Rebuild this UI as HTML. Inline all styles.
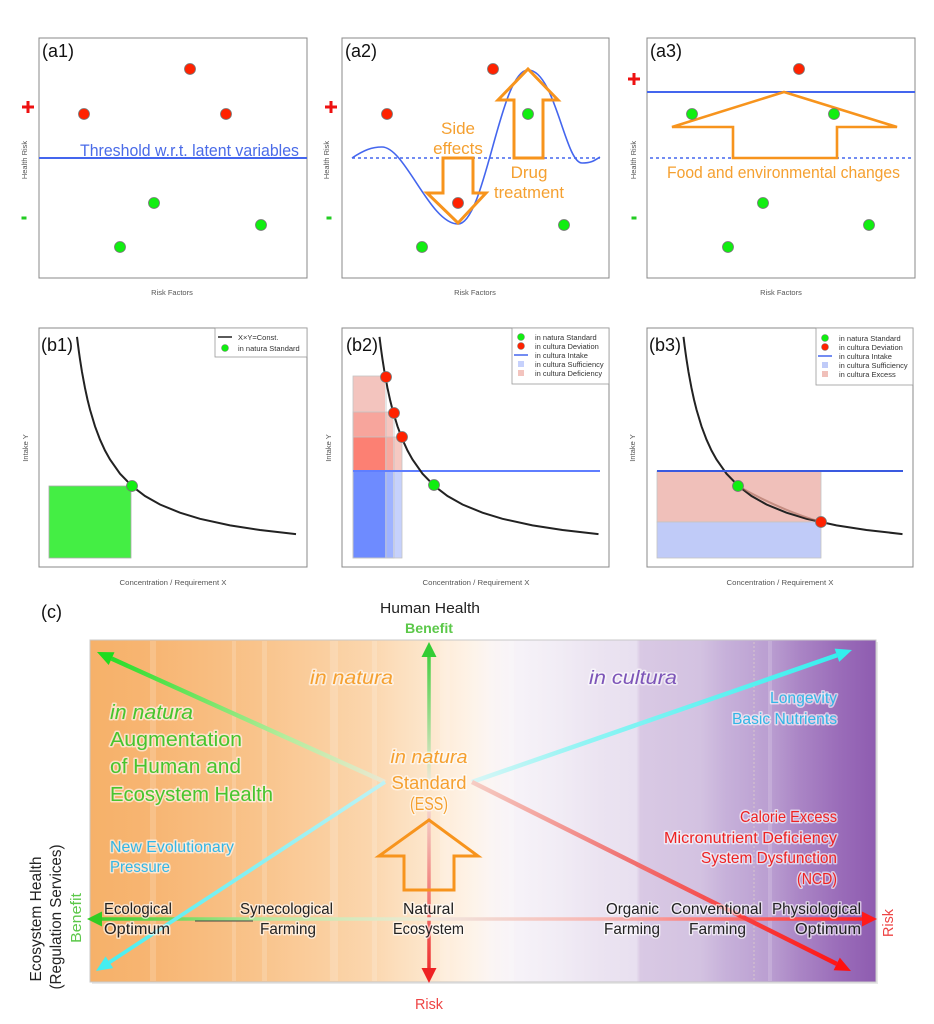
<!DOCTYPE html>
<html><head><meta charset="utf-8"><style>
html,body{margin:0;padding:0;background:#fff;}
svg{display:block;}
text{font-family:"Liberation Sans",Arial,sans-serif;}
.halo{paint-order:stroke;stroke:rgba(255,255,255,0.6);stroke-width:3px;stroke-linejoin:round;}
.ax{font-size:7.5px;fill:#555;}
.lg{font-size:7.5px;fill:#333;}
</style></head><body>
<svg width="934" height="1024" viewBox="0 0 934 1024" xmlns="http://www.w3.org/2000/svg">
<defs>
 <path id="hyp" d="M77,336.9 L78,344.9 L79,352.4 L80,359.4 L82,372 L85,388.1 L87.5,399.6 L90,409.6 L95,426.3 L100,439.6 L105,450.5 L110,459.5 L120,473.7 L132,486.1 L145,496 L160,504.5 L180,512.7 L200,518.8 L230,525.4 L260,530 L296,534.1" fill="none" stroke="#222" stroke-width="2"/>
 <linearGradient id="bg" gradientUnits="userSpaceOnUse" x1="90" y1="0" x2="876" y2="0">
  <stop offset="0" stop-color="#f6b169"/>
  <stop offset="0.076" stop-color="#f7b572"/>
  <stop offset="0.153" stop-color="#f8bd80"/>
  <stop offset="0.216" stop-color="#f9c48c"/>
  <stop offset="0.293" stop-color="#face9e"/>
  <stop offset="0.356" stop-color="#fbd6ad"/>
  <stop offset="0.394" stop-color="#fcdfbe"/>
  <stop offset="0.433" stop-color="#fde7cd"/>
  <stop offset="0.464" stop-color="#feefdf"/>
  <stop offset="0.490" stop-color="#fdf4ea"/>
  <stop offset="0.511" stop-color="#fbf5f4"/>
  <stop offset="0.547" stop-color="#f6f2f8"/>
  <stop offset="0.598" stop-color="#f1ecf5"/>
  <stop offset="0.649" stop-color="#ebe3f1"/>
  <stop offset="0.695" stop-color="#e8e0f0"/>
  <stop offset="0.700" stop-color="#d9c9e4"/>
  <stop offset="0.776" stop-color="#d3c2e1"/>
  <stop offset="0.808" stop-color="#c7b1da"/>
  <stop offset="0.865" stop-color="#ba9ed1"/>
  <stop offset="0.903" stop-color="#aa85c5"/>
  <stop offset="0.954" stop-color="#9a6cb9"/>
  <stop offset="1" stop-color="#8e5cb0"/>
 </linearGradient>
 <linearGradient id="gUL" gradientUnits="userSpaceOnUse" x1="385" y1="782" x2="97" y2="652">
  <stop offset="0" stop-color="#ece8d2"/><stop offset="0.35" stop-color="#b4ec9c"/><stop offset="1" stop-color="#1fdc1f"/>
 </linearGradient>
 <linearGradient id="gUR" gradientUnits="userSpaceOnUse" x1="472" y1="782" x2="852" y2="650">
  <stop offset="0" stop-color="#d8f6f6"/><stop offset="0.3" stop-color="#90f4f4"/><stop offset="1" stop-color="#33eeee"/>
 </linearGradient>
 <linearGradient id="gLL" gradientUnits="userSpaceOnUse" x1="385" y1="782" x2="96" y2="971">
  <stop offset="0" stop-color="#bff2f4"/><stop offset="1" stop-color="#44eef0"/>
 </linearGradient>
 <linearGradient id="gLR" gradientUnits="userSpaceOnUse" x1="472" y1="782" x2="851" y2="971">
  <stop offset="0" stop-color="#f6cdc4"/><stop offset="0.4" stop-color="#f07474"/><stop offset="1" stop-color="#ff1010"/>
 </linearGradient>
 <linearGradient id="gUp" gradientUnits="userSpaceOnUse" x1="429" y1="782" x2="429" y2="642">
  <stop offset="0" stop-color="#f0e8d8"/><stop offset="1" stop-color="#33cc33"/>
 </linearGradient>
 <linearGradient id="gDn" gradientUnits="userSpaceOnUse" x1="429" y1="800" x2="429" y2="983">
  <stop offset="0" stop-color="#f4dcd4"/><stop offset="1" stop-color="#ee2222"/>
 </linearGradient>
 <linearGradient id="gLf" gradientUnits="userSpaceOnUse" x1="429" y1="919" x2="87" y2="919">
  <stop offset="0" stop-color="#f0ead8"/><stop offset="0.45" stop-color="#bce8a4"/><stop offset="1" stop-color="#33cc22"/>
 </linearGradient>
 <linearGradient id="gRt" gradientUnits="userSpaceOnUse" x1="429" y1="919" x2="877" y2="919">
  <stop offset="0" stop-color="#f0e8e0"/><stop offset="0.4" stop-color="#f8b4b0"/><stop offset="1" stop-color="#ff1a1a"/>
 </linearGradient>
</defs>

<!-- ================= ROW A ================= -->
<!-- a1 -->
<rect x="39" y="38" width="268" height="240" fill="#fff" stroke="#888" stroke-width="1"/>
<text x="42" y="57" font-size="18" fill="#111">(a1)</text>
<line x1="39" y1="158" x2="307" y2="158" stroke="#4466ee" stroke-width="2"/>
<text x="80" y="156" font-size="17" fill="#4a6be8" textLength="219" lengthAdjust="spacingAndGlyphs">Threshold w.r.t. latent variables</text>
<g stroke="#777" stroke-width="0.8">
 <circle cx="190" cy="69" r="5.5" fill="#ff2200"/>
 <circle cx="84" cy="114" r="5.5" fill="#ff2200"/>
 <circle cx="226" cy="114" r="5.5" fill="#ff2200"/>
 <circle cx="154" cy="203" r="5.5" fill="#11ee11"/>
 <circle cx="120" cy="247" r="5.5" fill="#11ee11"/>
 <circle cx="261" cy="225" r="5.5" fill="#11ee11"/>
</g>
<path d="M22,107 H34 M28,101 V113" stroke="#ee1111" stroke-width="3"/>
<rect x="21.5" y="216.5" width="5" height="3" fill="#22cc22"/>
<text class="ax" transform="translate(27,160) rotate(-90)" text-anchor="middle">Health Risk</text>
<text class="ax" x="172" y="295" text-anchor="middle">Risk Factors</text>

<!-- a2 -->
<rect x="342" y="38" width="267" height="240" fill="#fff" stroke="#888" stroke-width="1"/>
<text x="345" y="57" font-size="18" fill="#111">(a2)</text>
<line x1="352" y1="158" x2="600" y2="158" stroke="#4466ee" stroke-width="1.6" stroke-dasharray="3,3"/>
<path d="M352,158 C364,150 372,147 382,147 C405,147 430,224 458,224 C485,224 500,70 528,70 C555,70 565,163 582,163 C592,163 595,160 600,157" fill="none" stroke="#4466ee" stroke-width="1.6"/>
<g stroke="#777" stroke-width="0.8">
 <circle cx="493" cy="69" r="5.5" fill="#ff2200"/>
 <circle cx="387" cy="114" r="5.5" fill="#ff2200"/>
 <circle cx="458" cy="203" r="5.5" fill="#ff2200"/>
 <circle cx="528" cy="114" r="5.5" fill="#11ee11"/>
 <circle cx="422" cy="247" r="5.5" fill="#11ee11"/>
 <circle cx="564" cy="225" r="5.5" fill="#11ee11"/>
</g>
<path d="M443,158 L473,158 L473,193 L486,193 L458,223 L427,193 L443,193 Z" fill="none" stroke="#f7941d" stroke-width="3" stroke-linejoin="miter"/>
<path d="M514,158 L543,158 L543,100 L558,100 L528,69 L498,100 L514,100 Z" fill="none" stroke="#f7941d" stroke-width="3" stroke-linejoin="miter"/>
<text x="458" y="134" font-size="17" fill="#f5a030" text-anchor="middle" class="halo">Side</text>
<text x="458" y="154" font-size="17" fill="#f5a030" text-anchor="middle" class="halo">effects</text>
<text x="529" y="178" font-size="17" fill="#f5a030" text-anchor="middle" class="halo">Drug</text>
<text x="529" y="198" font-size="17" fill="#f5a030" text-anchor="middle" class="halo" textLength="70" lengthAdjust="spacingAndGlyphs">treatment</text>
<path d="M325,107 H337 M331,101 V113" stroke="#ee1111" stroke-width="3"/>
<rect x="326.5" y="216.5" width="5" height="3" fill="#22cc22"/>
<text class="ax" transform="translate(329,160) rotate(-90)" text-anchor="middle">Health Risk</text>
<text class="ax" x="475" y="295" text-anchor="middle">Risk Factors</text>

<!-- a3 -->
<rect x="647" y="38" width="268" height="240" fill="#fff" stroke="#888" stroke-width="1"/>
<text x="650" y="57" font-size="18" fill="#111">(a3)</text>
<line x1="647" y1="92" x2="915" y2="92" stroke="#4466ee" stroke-width="2"/>
<line x1="650" y1="158" x2="913" y2="158" stroke="#4466ee" stroke-width="1.6" stroke-dasharray="3,3"/>
<path d="M733,158 L837,158 L837,127 L897,127 L784,92 L672,127 L733,127 Z" fill="none" stroke="#f7941d" stroke-width="2.6" stroke-linejoin="miter"/>
<g stroke="#777" stroke-width="0.8">
 <circle cx="799" cy="69" r="5.5" fill="#ff2200"/>
 <circle cx="692" cy="114" r="5.5" fill="#11ee11"/>
 <circle cx="834" cy="114" r="5.5" fill="#11ee11"/>
 <circle cx="763" cy="203" r="5.5" fill="#11ee11"/>
 <circle cx="728" cy="247" r="5.5" fill="#11ee11"/>
 <circle cx="869" cy="225" r="5.5" fill="#11ee11"/>
</g>
<text x="667" y="178" font-size="17" fill="#f5a030" class="halo" textLength="233" lengthAdjust="spacingAndGlyphs">Food and environmental changes</text>
<path d="M628,79 H640 M634,73 V85" stroke="#ee1111" stroke-width="3"/>
<rect x="631.5" y="216.5" width="5" height="3" fill="#22cc22"/>
<text class="ax" transform="translate(636,160) rotate(-90)" text-anchor="middle">Health Risk</text>
<text class="ax" x="781" y="295" text-anchor="middle">Risk Factors</text>

<!-- ================= ROW B ================= -->
<!-- b1 -->
<rect x="39" y="328" width="268" height="239" fill="#fff" stroke="#888" stroke-width="1"/>
<rect x="49" y="486" width="82" height="72" fill="#44ee44" stroke="#aaa" stroke-width="0.8"/>
<use href="#hyp"/>
<circle cx="132" cy="486" r="5.5" fill="#11ee11" stroke="#777" stroke-width="0.8"/>
<text x="41" y="351" font-size="18" fill="#111">(b1)</text>
<rect x="215" y="328" width="92" height="29" fill="#fff" stroke="#999" stroke-width="0.8"/>
<line x1="218" y1="337" x2="232" y2="337" stroke="#222" stroke-width="1.5"/>
<text class="lg" x="238" y="340">X×Y=Const.</text>
<circle cx="225" cy="348" r="3.5" fill="#11ee11" stroke="#777" stroke-width="0.5"/>
<text class="lg" x="238" y="351">in natura Standard</text>
<text class="ax" transform="translate(28,448) rotate(-90)" text-anchor="middle">Intake Y</text>
<text class="ax" x="173" y="585" text-anchor="middle" textLength="107" lengthAdjust="spacingAndGlyphs">Concentration / Requirement X</text>

<!-- b2 -->
<rect x="342" y="328" width="267" height="239" fill="#fff" stroke="#888" stroke-width="1"/>
<rect x="353" y="376" width="32" height="36" fill="#f3c4be"/>
<rect x="353" y="412" width="32" height="25" fill="#f7a59c"/>
<rect x="353" y="437" width="32" height="34" fill="#fc8073"/>
<rect x="353" y="471" width="32" height="87" fill="#6e8bff"/>
<rect x="385" y="412" width="8" height="25" fill="#f5c6c0"/>
<rect x="385" y="437" width="8" height="34" fill="#f7a99f"/>
<rect x="385" y="471" width="8" height="87" fill="#9fb3ff"/>
<rect x="393" y="437" width="9" height="34" fill="#f5c9c2"/>
<rect x="393" y="471" width="9" height="87" fill="#c6d1fc"/>
<g fill="none" stroke="#c4c4c4" stroke-width="0.8">
 <rect x="353" y="376" width="33" height="182"/>
 <rect x="353" y="412" width="41" height="146"/>
 <rect x="353" y="437" width="49" height="121"/>
</g>
<line x1="353" y1="471" x2="600" y2="471" stroke="#5f7eff" stroke-width="2"/>
<use href="#hyp" transform="translate(302.5,0)"/>
<g stroke="#777" stroke-width="0.8">
 <circle cx="386" cy="377" r="5.5" fill="#ff2200"/>
 <circle cx="394" cy="413" r="5.5" fill="#ff2200"/>
 <circle cx="402" cy="437" r="5.5" fill="#ff2200"/>
 <circle cx="434" cy="485" r="5.5" fill="#11ee11"/>
</g>
<text x="346" y="351" font-size="18" fill="#111">(b2)</text>
<rect x="512" y="328" width="97" height="56" fill="#fff" stroke="#999" stroke-width="0.8"/>
<circle cx="521" cy="337" r="3.5" fill="#11ee11" stroke="#777" stroke-width="0.5"/>
<text class="lg" x="535" y="340">in natura Standard</text>
<circle cx="521" cy="346" r="3.5" fill="#ff2200" stroke="#777" stroke-width="0.5"/>
<text class="lg" x="535" y="349">in cultura Deviation</text>
<line x1="514" y1="355" x2="528" y2="355" stroke="#4466ee" stroke-width="1.5"/>
<text class="lg" x="535" y="358">in cultura Intake</text>
<rect x="518" y="361" width="6" height="6" fill="#c6d1fc"/>
<text class="lg" x="535" y="367">in cultura Sufficiency</text>
<rect x="518" y="370" width="6" height="6" fill="#f3c4be"/>
<text class="lg" x="535" y="376">in cultura Deficiency</text>
<text class="ax" transform="translate(331,448) rotate(-90)" text-anchor="middle">Intake Y</text>
<text class="ax" x="476" y="585" text-anchor="middle" textLength="107" lengthAdjust="spacingAndGlyphs">Concentration / Requirement X</text>

<!-- b3 -->
<rect x="647" y="328" width="266" height="239" fill="#fff" stroke="#888" stroke-width="1"/>
<rect x="657" y="471" width="164" height="51" fill="#f0c0ba" stroke="#c4c4c4" stroke-width="0.8"/>
<rect x="657" y="522" width="164" height="36" fill="#c0cbf8" stroke="#c4c4c4" stroke-width="0.8"/>
<use href="#hyp" transform="translate(606.5,0)"/>
<path d="M738,486 Q780,510 821,522" fill="none" stroke="#9a5a4a" stroke-width="2" opacity="0.5"/>
<line x1="657" y1="471" x2="903" y2="471" stroke="#3a5ae0" stroke-width="2"/>
<g stroke="#777" stroke-width="0.8">
 <circle cx="738" cy="486" r="5.5" fill="#11ee11"/>
 <circle cx="821" cy="522" r="5.5" fill="#ff2200"/>
</g>
<text x="649" y="351" font-size="18" fill="#111">(b3)</text>
<rect x="816" y="328" width="97" height="57" fill="#fff" stroke="#999" stroke-width="0.8"/>
<circle cx="825" cy="338" r="3.5" fill="#11ee11" stroke="#777" stroke-width="0.5"/>
<text class="lg" x="839" y="341">in natura Standard</text>
<circle cx="825" cy="347" r="3.5" fill="#ff2200" stroke="#777" stroke-width="0.5"/>
<text class="lg" x="839" y="350">in cultura Deviation</text>
<line x1="818" y1="356" x2="832" y2="356" stroke="#4466ee" stroke-width="1.5"/>
<text class="lg" x="839" y="359">in cultura Intake</text>
<rect x="822" y="362" width="6" height="6" fill="#c0cbf8"/>
<text class="lg" x="839" y="368">in cultura Sufficiency</text>
<rect x="822" y="371" width="6" height="6" fill="#f0c0ba"/>
<text class="lg" x="839" y="377">in cultura Excess</text>
<text class="ax" transform="translate(635,448) rotate(-90)" text-anchor="middle">Intake Y</text>
<text class="ax" x="780" y="585" text-anchor="middle" textLength="107" lengthAdjust="spacingAndGlyphs">Concentration / Requirement X</text>

<!-- ================= PANEL C ================= -->
<text x="41" y="618" font-size="18" fill="#111">(c)</text>
<text x="430" y="613" font-size="15" fill="#222" text-anchor="middle" textLength="100" lengthAdjust="spacingAndGlyphs">Human Health</text>
<text x="429" y="633" font-size="14" fill="#5cc84a" text-anchor="middle" font-weight="bold" textLength="48" lengthAdjust="spacingAndGlyphs">Benefit</text>

<rect x="92" y="642" width="786" height="342" fill="#d8d8d8" opacity="0.6"/>
<rect x="90" y="640" width="786" height="342" fill="url(#bg)" stroke="#c8c8c8" stroke-width="1"/>
<!-- subtle stripes -->
<g opacity="0.16" fill="#fff">
 <rect x="150" y="641" width="6" height="340"/>
 <rect x="232" y="641" width="4" height="340"/>
 <rect x="262" y="641" width="5" height="340"/>
 <rect x="330" y="641" width="8" height="340"/>
 <rect x="372" y="641" width="5" height="340"/>
 <rect x="440" y="641" width="10" height="340"/>
 <rect x="500" y="641" width="14" height="340"/>
 <rect x="768" y="641" width="4" height="340"/>
</g>
<line x1="754" y1="642" x2="754" y2="980" stroke="#e8dcc8" stroke-width="1" stroke-dasharray="2,2" opacity="0.6"/>

<!-- axes -->
<line x1="429" y1="782" x2="429" y2="656" stroke="url(#gUp)" stroke-width="3.5"/>
<polygon points="429,642 421.5,657 436.5,657" fill="#33cc33"/>
<line x1="429" y1="800" x2="429" y2="969" stroke="url(#gDn)" stroke-width="3.5"/>
<polygon points="429,983 421.5,968 436.5,968" fill="#ee2222"/>
<line x1="429" y1="919" x2="100" y2="919" stroke="url(#gLf)" stroke-width="3.5"/>
<polygon points="87,919 102,911.5 102,926.5" fill="#33cc22"/>
<line x1="429" y1="919" x2="864" y2="919" stroke="url(#gRt)" stroke-width="3.5"/>
<polygon points="877,919 862,911.5 862,926.5" fill="#ff1a1a"/>
<line x1="195" y1="921" x2="253" y2="921" stroke="#444" stroke-width="1"/>

<!-- diagonals -->
<line x1="385" y1="782" x2="111.6" y2="658.6" stroke="url(#gUL)" stroke-width="4.5"/>
<polygon points="97,652 114.5,652.2 108.7,665" fill="#1fdc1f"/>
<line x1="472" y1="782" x2="836.9" y2="655.3" stroke="url(#gUR)" stroke-width="4.5"/>
<polygon points="852,650 839.2,661.9 834.6,648.6" fill="#33eeee"/>
<line x1="385" y1="782" x2="109.4" y2="962.3" stroke="url(#gLL)" stroke-width="3.8"/>
<polygon points="96,971 105.6,956.4 113.2,968.1" fill="#44eef0"/>
<line x1="472" y1="782" x2="836.7" y2="963.9" stroke="url(#gLR)" stroke-width="4.5"/>
<polygon points="851,971 833.6,970.2 839.8,957.6" fill="#ff1010"/>

<!-- orange arrow -->
<path d="M404,890 L454,890 L454,856 L478,856 L429,820 L379,856 L404,856 Z" fill="none" stroke="#f7941d" stroke-width="3" stroke-linejoin="miter"/>

<!-- labels -->
<text x="310" y="684" font-size="19" font-style="italic" fill="#f5a030" class="halo" textLength="83" lengthAdjust="spacingAndGlyphs">in natura</text>
<text x="589" y="684" font-size="19" font-style="italic" fill="#7d55b8" class="halo" textLength="88" lengthAdjust="spacingAndGlyphs">in cultura</text>

<g fill="#47c52e" class="halo" font-size="20">
 <text x="110" y="719" font-style="italic" textLength="83" lengthAdjust="spacingAndGlyphs">in natura</text>
 <text x="110" y="746" textLength="132" lengthAdjust="spacingAndGlyphs">Augmentation</text>
 <text x="110" y="773" textLength="131" lengthAdjust="spacingAndGlyphs">of Human and</text>
 <text x="110" y="801" textLength="163" lengthAdjust="spacingAndGlyphs">Ecosystem Health</text>
</g>

<g fill="#f5a030" class="halo" font-size="18" text-anchor="middle">
 <text x="429" y="763" font-style="italic" textLength="77" lengthAdjust="spacingAndGlyphs">in natura</text>
 <text x="429" y="789" textLength="75" lengthAdjust="spacingAndGlyphs">Standard</text>
 <text x="429" y="810" textLength="38" lengthAdjust="spacingAndGlyphs">(ESS)</text>
</g>

<g fill="#33b6e6" class="halo" font-size="16" text-anchor="end">
 <text x="837" y="703" textLength="67" lengthAdjust="spacingAndGlyphs">Longevity</text>
 <text x="837" y="724" textLength="105" lengthAdjust="spacingAndGlyphs">Basic Nutrients</text>
</g>
<g fill="#33b6e6" class="halo" font-size="16">
 <text x="110" y="852" textLength="124" lengthAdjust="spacingAndGlyphs">New Evolutionary</text>
 <text x="110" y="872" textLength="60" lengthAdjust="spacingAndGlyphs">Pressure</text>
</g>
<g fill="#ee2222" class="halo" font-size="16" text-anchor="end">
 <text x="837" y="822" textLength="97" lengthAdjust="spacingAndGlyphs">Calorie Excess</text>
 <text x="837" y="843" textLength="173" lengthAdjust="spacingAndGlyphs">Micronutrient Deficiency</text>
 <text x="837" y="863" textLength="136" lengthAdjust="spacingAndGlyphs">System Dysfunction</text>
 <text x="837" y="884" textLength="40" lengthAdjust="spacingAndGlyphs">(NCD)</text>
</g>

<g fill="#222" class="halo" font-size="16">
 <text x="104" y="914" textLength="68" lengthAdjust="spacingAndGlyphs">Ecological</text>
 <text x="104" y="934" textLength="66" lengthAdjust="spacingAndGlyphs">Optimum</text>
 <text x="240" y="914" textLength="93" lengthAdjust="spacingAndGlyphs">Synecological</text>
 <text x="260" y="934" textLength="56" lengthAdjust="spacingAndGlyphs">Farming</text>
 <text x="403" y="914" textLength="51" lengthAdjust="spacingAndGlyphs">Natural</text>
 <text x="393" y="934" textLength="71" lengthAdjust="spacingAndGlyphs">Ecosystem</text>
 <text x="606" y="914" textLength="53" lengthAdjust="spacingAndGlyphs">Organic</text>
 <text x="604" y="934" textLength="56" lengthAdjust="spacingAndGlyphs">Farming</text>
 <text x="671" y="914" textLength="91" lengthAdjust="spacingAndGlyphs">Conventional</text>
 <text x="689" y="934" textLength="57" lengthAdjust="spacingAndGlyphs">Farming</text>
 <text x="772" y="914" textLength="89" lengthAdjust="spacingAndGlyphs">Physiological</text>
 <text x="795" y="934" textLength="66" lengthAdjust="spacingAndGlyphs">Optimum</text>
</g>

<text x="429" y="1009" font-size="15" fill="#ee4444" text-anchor="middle" textLength="28" lengthAdjust="spacingAndGlyphs">Risk</text>
<text transform="translate(893,923) rotate(-90)" font-size="15" fill="#ee4444" text-anchor="middle" textLength="28" lengthAdjust="spacingAndGlyphs">Risk</text>
<text transform="translate(41,919) rotate(-90)" font-size="16" fill="#222" text-anchor="middle" textLength="125" lengthAdjust="spacingAndGlyphs">Ecosystem Health</text>
<text transform="translate(61,917) rotate(-90)" font-size="16" fill="#222" text-anchor="middle" textLength="145" lengthAdjust="spacingAndGlyphs">(Regulation Services)</text>
<text transform="translate(81,918) rotate(-90)" font-size="15" fill="#5cc84a" text-anchor="middle" textLength="50" lengthAdjust="spacingAndGlyphs">Benefit</text>
</svg>
</body></html>
